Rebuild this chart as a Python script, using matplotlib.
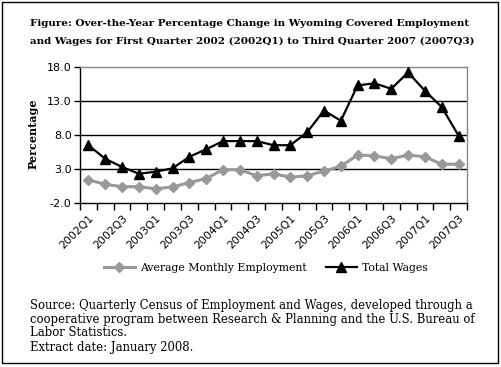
import matplotlib
matplotlib.use("Agg")
import matplotlib.pyplot as plt
from matplotlib.patches import Rectangle
import numpy as np

quarters = [f"{y}Q{q}" for y in range(2002, 2008) for q in range(1, 5)][:23]
employment = [1.4, 0.75, 0.4, 0.4, 0.1, 0.35, 1.0, 1.6, 2.9, 2.9, 2.0, 2.3,
              1.8, 2.0, 2.7, 3.4, 5.05, 4.95, 4.5, 5.05, 4.8, 3.7, 3.7]
total_wages = [6.5, 4.5, 3.3, 2.3, 2.6, 3.1, 4.8, 5.9, 7.1, 7.1, 7.1, 6.5,
               6.5, 8.4, 11.6, 10.1, 15.3, 15.6, 14.8, 17.2, 14.5, 12.1, 7.9]
yticks = [-2.0, 3.0, 8.0, 13.0, 18.0]

W, H = 501, 367
fig = plt.figure(figsize=(W / 100, H / 100), dpi=100)

serif = "DejaVu Serif"
sans = "DejaVu Sans"

ax = fig.add_axes([80 / W, 1 - 203 / H, (467 - 80) / W, (203 - 67) / H])
x = np.arange(len(quarters))
ax.plot(x, employment, color="#999999", lw=2.2, marker="D", ms=5.5,
        mec="#999999", mfc="#999999", label="Average Monthly Employment", zorder=3)
ax.plot(x, total_wages, color="black", lw=1.6, marker="^", ms=7,
        mec="black", mfc="black", label="Total Wages", zorder=4)

ax.set_xlim(-0.5, len(quarters) - 0.5)
ax.set_ylim(-2, 18)
ax.set_yticks(yticks)
ax.set_yticklabels([f"{v:.1f}" for v in yticks], fontsize=8, family=sans)
for v in yticks[1:-1]:
    ax.axhline(v, color="black", lw=1.0, zorder=1)

ax.set_xticks(x[::2])
ax.set_xticklabels(quarters[::2], rotation=45, ha="right", va="top",
                   rotation_mode="anchor", fontsize=7.8, family=sans)
ax.set_xticks(np.arange(-0.5, len(quarters), 1), minor=True)
ax.tick_params(axis="x", which="major", length=0, pad=7)
ax.tick_params(axis="x", which="minor", length=5, width=1, color="black", direction="out")
ax.tick_params(axis="y", length=4, width=1, color="black", direction="out", pad=2)

for s in ["top", "right"]:
    ax.spines[s].set_color("#888888")
    ax.spines[s].set_linewidth(1)
for s in ["left", "bottom"]:
    ax.spines[s].set_color("black")
    ax.spines[s].set_linewidth(1)

fig.text(33 / W, 1 - 134 / H, "Percentage", rotation=90, ha="center", va="center",
         fontsize=8, family=serif, fontweight="bold")

fig.text(30 / W, 1 - 24 / H,
         "Figure: Over-the-Year Percentage Change in Wyoming Covered Employment",
         ha="left", va="center", fontsize=7.5, family=serif, fontweight="bold")
fig.text(30 / W, 1 - 41 / H,
         "and Wages for First Quarter 2002 (2002Q1) to Third Quarter 2007 (2007Q3)",
         ha="left", va="center", fontsize=7.5, family=serif, fontweight="bold")

leg = fig.legend(loc="center", bbox_to_anchor=(266 / W, 1 - 268 / H), ncol=2,
                 frameon=False, prop={"family": serif, "size": 7.8},
                 handlelength=2.8, columnspacing=1.8, handletextpad=0.5)

src = ["Source: Quarterly Census of Employment and Wages, developed through a",
       "cooperative program between Research & Planning and the U.S. Bureau of",
       "Labor Statistics.",
       "Extract date: January 2008."]
for i, line in enumerate(src):
    fig.text(30 / W, 1 - (305 + 14 * i) / H, line, ha="left", va="center",
             fontsize=8.4, family=serif)

fig.patches.append(Rectangle((2 / W, 1 - 363 / H), 496 / W, 361 / H,
                             transform=fig.transFigure, fill=False,
                             edgecolor="black", lw=1))

fig.savefig("out.png", dpi=100)
